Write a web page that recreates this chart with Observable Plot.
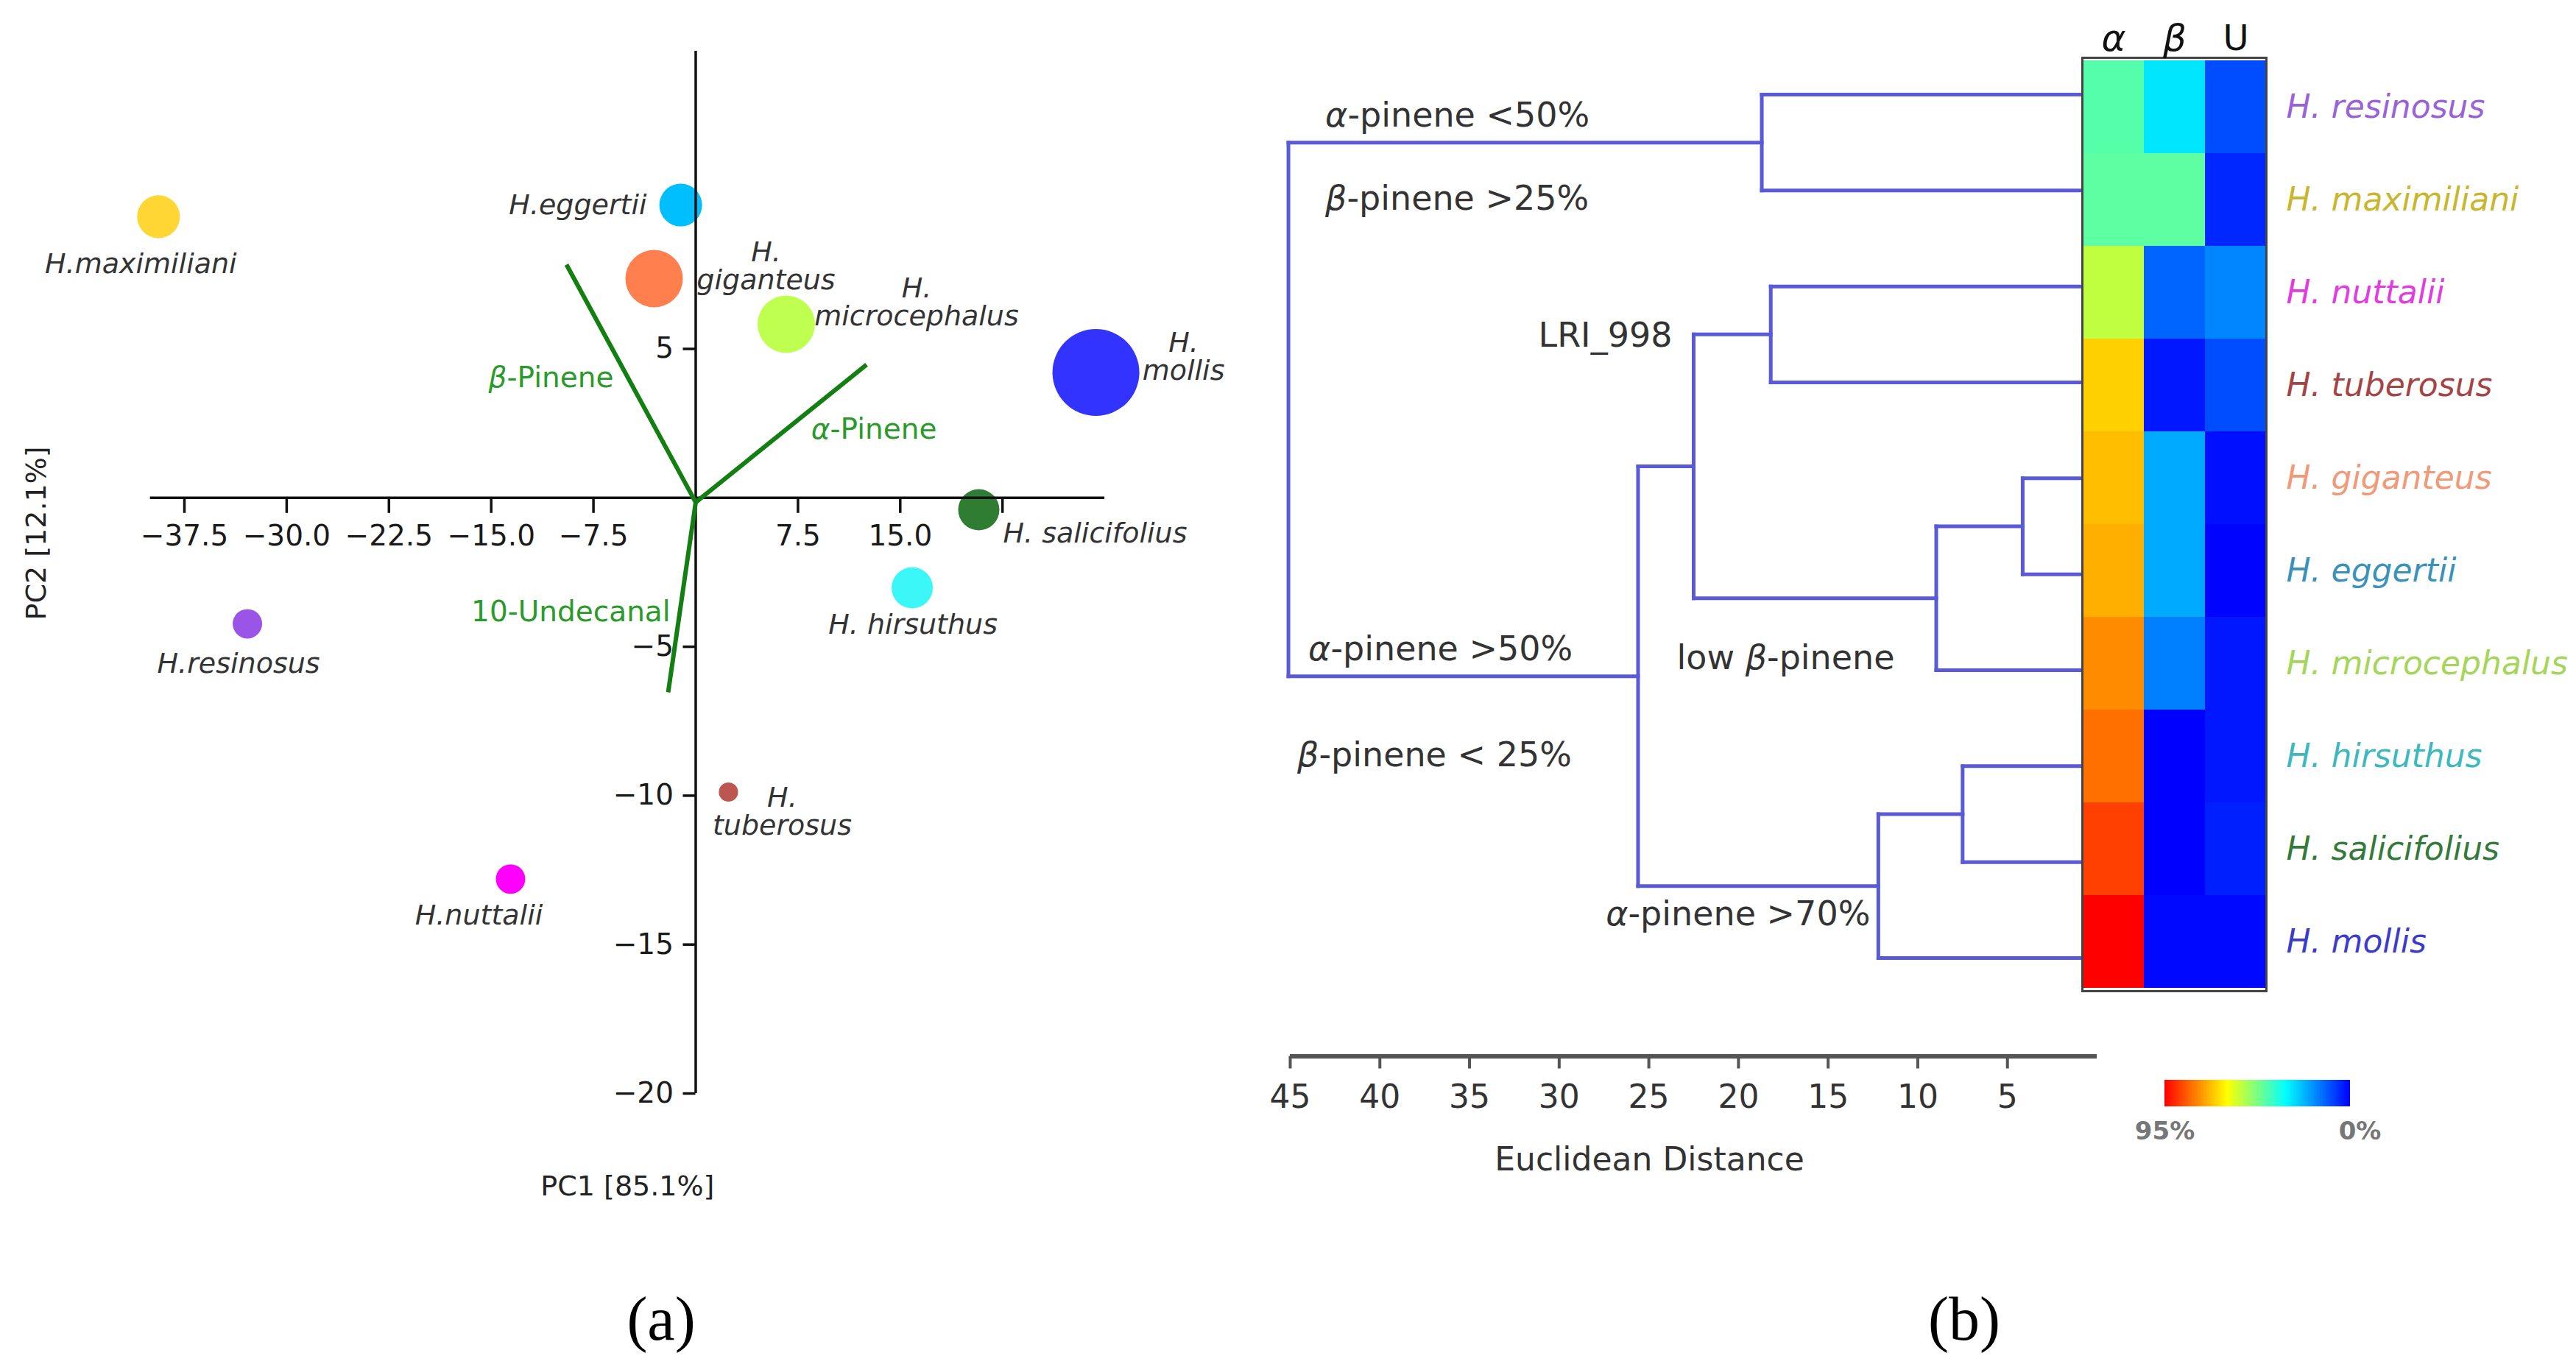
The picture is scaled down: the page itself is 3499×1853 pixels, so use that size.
<!DOCTYPE html>
<html><head><meta charset="utf-8">
<script src="https://cdn.jsdelivr.net/npm/d3@7"></script>
<script src="https://cdn.jsdelivr.net/npm/@observablehq/plot@0.6"></script>
<style>
html,body{margin:0;padding:0;background:#fff;}
#page{position:relative;width:3499px;height:1853px;overflow:hidden;background:#fff;font-family:"DejaVu Sans";}
.panel{position:absolute;}
.panel svg{display:block;overflow:visible;}
.tag{position:absolute;font-family:"Liberation Serif","Times New Roman",serif;font-size:84px;line-height:1;transform:translate(-50%,-50%);color:#000;white-space:nowrap;}
</style></head><body><div id="page"></div>
<script>
// ================= DATA =================
// Panel (a): PCA biplot
const species = ["H. maximiliani","H. eggertii","H. giganteus","H. microcephalus","H. mollis","H. salicifolius","H. hirsuthus","H. resinosus","H. tuberosus","H. nuttalii"];
const pc1 = [-39.4, -1.1, -3.05, 6.64, 29.35, 20.76, 15.88, -32.88, 2.40, -13.58];
const pc2 = [9.44, 9.83, 7.36, 5.83, 4.21, -0.40, -3.02, -4.23, -9.88, -12.80];
const pointSize = [24.2, 24.2, 43.7, 43.7, 100, 22.5, 22.5, 11.5, 4.9, 11.5];
const pcaLabels = ["H.maximiliani","H.eggertii","H.\ngiganteus","H.\nmicrocephalus","H.\nmollis","H. salicifolius","H. hirsuthus","H.resinosus","H.\ntuberosus","H.nuttalii"];

const loadingNames = ["β-Pinene","α-Pinene","10-Undecanal"];
const loadingPC1 = [-9.48, 12.53, -2.02];
const loadingPC2 = [7.83, 4.47, -6.53];
const loadingOrigin = [0, -0.15];

const pc1Ticks = [-37.5, -30, -22.5, -15, -7.5, 7.5, 15, 22.5];
const pc1TickLabels = ["−37.5","−30.0","−22.5","−15.0","−7.5","7.5","15.0",""];
const pc2Ticks = [5, -5, -10, -15, -20];
const pc2TickLabels = ["5","−5","−10","−15","−20"];
const pc1Title = "PC1 [85.1%]";
const pc2Title = "PC2 [12.1%]";

// Panel (b): dendrogram + heatmap
const rowSpecies = ["H. resinosus","H. maximiliani","H. nuttalii","H. tuberosus","H. giganteus","H. eggertii","H. microcephalus","H. hirsuthus","H. salicifolius","H. mollis"];
const compounds = ["α","β","U"];
const alphaPct = [43, 44, 55.5, 68.8, 71, 73, 77.4, 81, 87, 95];
const betaPct  = [29.7, 44, 13, 3, 22, 22, 16.5, 0, 0, 1];
const undecPct = [10, 5, 17.5, 10, 2, 0.5, 3, 3, 4, 1];
// linkage (leaves 0-9, merges numbered 10..18 in order)
const linkLeft  = [0, 2, 4, 12, 11, 7, 15, 14, 10];
const linkRight = [1, 3, 5, 6, 13, 8, 9, 16, 17];
const linkDist  = [18.7, 18.2, 4.15, 8.97, 22.5, 7.5, 12.2, 25.6, 45.1];
const distTicks = [45, 40, 35, 30, 25, 20, 15, 10, 5];
const distTitle = "Euclidean Distance";
const clusterNotes = ["α-pinene <50%","β-pinene >25%","LRI_998","α-pinene >50%","low β-pinene","β-pinene < 25%","α-pinene >70%"];
const colorStops = [0, 33, 63, 95];
const legendTicks = [95, 0];

// ================= STYLE / LAYOUT =================
const FONT = "DejaVu Sans";
const pointColor = {"H. maximiliani":"#FFD633","H. eggertii":"#00BFFF","H. giganteus":"#FF7F4F","H. microcephalus":"#BFFF50","H. mollis":"#3333FF","H. salicifolius":"#2E7D32","H. hirsuthus":"#3CF7F7","H. resinosus":"#9B55E6","H. tuberosus":"#BD5550","H. nuttalii":"#FF00FF"};
const rowLabelColor = {"H. resinosus":"#9A62D8","H. maximiliani":"#C9B62F","H. nuttalii":"#E03CE0","H. tuberosus":"#A34545","H. giganteus":"#F09A78","H. eggertii":"#3A92BB","H. microcephalus":"#A5D65A","H. hirsuthus":"#3DB8BE","H. salicifolius":"#347A3A","H. mollis":"#3C3CC8"};
const pcaLabelLayout = [
  {dx:-24, dy:64, a:"middle"}, {dx:-46, dy:0, a:"end"}, {dx:152, dy:-17, a:"middle"},
  {dx:177, dy:-30, a:"middle"}, {dx:119, dy:-21, a:"middle"}, {dx:33, dy:32, a:"start"},
  {dx:1, dy:50, a:"middle"}, {dx:-12, dy:54, a:"middle"}, {dx:73, dy:27, a:"middle"},
  {dx:-43, dy:50, a:"middle"}
];
const loadingLabelLayout = [{dx:64, dy:154, a:"end"}, {dx:10, dy:88, a:"middle"}, {dx:3, dy:-109, a:"end"}];
// notes: attached to (parent node distance, child node row)
const noteLayout = [
  {parent:18, child:10, dx:50, dy:-36, a:"start"},
  {parent:18, child:10, dx:50, dy:77, a:"start"},
  {parent:14, child:11, dx:-29, dy:2, a:"end"},
  {parent:18, child:17, dx:27, dy:-36, a:"start"},
  {parent:14, child:13, dx:-23, dy:82, a:"start"},
  {parent:18, child:17, dx:12, dy:108, a:"start"},
  {parent:16, child:16, dx:-11, dy:39, a:"end"}
];
const colorScale = {type:"linear", domain: colorStops, range:["#0000FF","#00FFFF","#FFFF00","#FF0000"], interpolate:"rgb"};

const page = document.getElementById("page");
function place(node, left, top){ const d = document.createElement("div"); d.className="panel"; d.style.left=left+"px"; d.style.top=top+"px"; d.appendChild(node); page.appendChild(d); }

// ================= PANEL A =================
{
  const W = 1700, H = 1700;
  const mL = 203.7, mR = 199.9, mT = 68.9, mB = 215;
  const pxX = (W - mL - mR) / 70, pxY = (H - mT - mB) / 35;
  const pts = species.map((s,i)=>({s, x: pc1[i], y: pc2[i], size: pointSize[i], label: pcaLabels[i]}));
  const loads = loadingNames.map((n,i)=>({n, x: loadingPC1[i], y: loadingPC2[i]}));
  const marks = [
    Plot.dot(pts, {x:"x", y:"y", r:"size", fill: d => pointColor[d.s], stroke: "none"}),
    Plot.ruleY([0], {stroke:"#111", strokeWidth:3.5}),
    Plot.ruleX([0], {stroke:"#111", strokeWidth:3.5}),
    Plot.ruleX(pc1Ticks, {x: d=>d, y1: 0, y2: -21/pxY, stroke:"#111", strokeWidth:3.5}),
    Plot.ruleY(pc2Ticks, {y: d=>d, x1: -17/pxX, x2: 0, stroke:"#111", strokeWidth:3.5}),
    Plot.text(pc1Ticks, {x: d=>d, y: 0, dy: 52, text: (d,i)=>pc1TickLabels[i], fontSize:39, fill:"#1a1a1a"}),
    Plot.text(pc2Ticks, {x: 0, y: d=>d, dx: -30, textAnchor:"end", text: (d,i)=>pc2TickLabels[i], fontSize:39, fill:"#1a1a1a"}),
    Plot.link(loads, {x1: ()=>loadingOrigin[0], y1: ()=>loadingOrigin[1], x2:"x", y2:"y", stroke:"#137F13", strokeWidth:6, strokeLinecap:"butt"}),
    Plot.text([pc1Title], {frameAnchor:"bottom", lineAnchor:"middle", textAnchor:"middle", dy:126, fontSize:38, fill:"#222"}),
    Plot.text([pc2Title], {frameAnchor:"left", lineAnchor:"middle", textAnchor:"middle", dx:-154, dy:-53, rotate:-90, fontSize:38, fill:"#222"})
  ];
  pts.forEach((p,i)=>{ const L = pcaLabelLayout[i];
    marks.push(Plot.text([p], {x:"x", y:"y", text:"label", dx:L.dx, dy:L.dy, textAnchor:L.a, lineHeight:1.0, fontSize:38, fontStyle:"italic", fill:"#333"}));
  });
  loads.forEach((p,i)=>{ const L = loadingLabelLayout[i];
    marks.push(Plot.text([p], {x:"x", y:"y", text:"n", dx:L.dx, dy:L.dy, textAnchor:L.a, fontSize:39, fill:"#2A9A2A"}));
  });
  const svg = Plot.plot({
    width: W, height: H, marginLeft: mL, marginRight: mR, marginTop: mT, marginBottom: mB,
    style: {background:"transparent", fontFamily: FONT},
    x: {domain:[-40,30], axis:null}, y: {domain:[-20,15], axis:null},
    r: {type:"sqrt", domain:[0,100], range:[0,59]},
    color: {type:"identity"},
    marks
  });
  place(svg, 0, 0);
}

// ================= PANEL B: dendrogram =================
{
  const W = 1160, H = 1600;
  const yTop = 128, yBot = 1301, axisPx = 1434.5;
  const rowPx = (yBot - yTop) / 9;
  const axisRow = 9 + (axisPx - yBot) / rowPx;
  const nodeX = [], nodeY = [];
  rowSpecies.forEach((s,i)=>{ nodeX[i] = 0; nodeY[i] = i; });
  linkDist.forEach((h,k)=>{ nodeX[10+k] = h; nodeY[10+k] = (nodeY[linkLeft[k]] + nodeY[linkRight[k]]) / 2; });
  const segs = [];
  linkDist.forEach((h,k)=>{
    for (const c of [linkLeft[k], linkRight[k]]) segs.push({x1: nodeX[c], y1: nodeY[c], x2: h, y2: nodeY[c]});
    segs.push({x1: h, y1: nodeY[linkLeft[k]], x2: h, y2: nodeY[linkRight[k]]});
  });
  const marks = [
    Plot.link(segs, {x1:"x1", y1:"y1", x2:"x2", y2:"y2", stroke:"#5A5AD8", strokeWidth:5, strokeLinecap:"square"}),
    Plot.ruleY([axisRow], {x1: distTicks[0], x2: 0, stroke:"#555", strokeWidth:6}),
    Plot.axisX({ticks: distTicks, tickSize:17, tickPadding:22, fontSize:44, label:null, stroke:"#555", fill:"#333", strokeWidth:4}),
    Plot.text([distTitle], {frameAnchor:"bottom", lineAnchor:"middle", textAnchor:"middle", dx:-60, dy:141, fontSize:44, fill:"#333"})
  ];
  clusterNotes.forEach((t,i)=>{ const L = noteLayout[i];
    marks.push(Plot.text([t], {x: ()=>nodeX[L.parent], y: ()=>nodeY[L.child], text: d=>d, dx:L.dx, dy:L.dy, textAnchor:L.a, fontSize:46, fill:"#333"}));
  });
  const svg = Plot.plot({
    width: W, height: H, marginLeft: 52, marginRight: 12, marginTop: 20, marginBottom: H - axisPx,
    style: {background:"transparent", fontFamily: FONT},
    x: {domain:[45,0]}, y: {domain:[0,9], range:[yTop, yBot], axis:null},
    marks
  });
  place(svg, 1700, 0);
}

// ================= PANEL B: heatmap =================
{
  const W = 719, H = 1400;
  const cells = rowSpecies.flatMap((s,i)=>[
    {s, c: compounds[0], v: alphaPct[i]},
    {s, c: compounds[1], v: betaPct[i]},
    {s, c: compounds[2], v: undecPct[i]}
  ]);
  const marks = [
    Plot.cell(cells, {x:"c", y:"s", fill:"v", inset:0, shapeRendering:"crispEdges"}),
    Plot.frame({stroke:"#444", strokeWidth:3}),
    Plot.text(compounds.slice(0,2), {x: d=>d, frameAnchor:"top", lineAnchor:"middle", dy:-26, fontSize:50, fontStyle:"italic", fill:"#111"}),
    Plot.text(compounds.slice(2), {x: d=>d, frameAnchor:"top", lineAnchor:"middle", dy:-26, fontSize:48, fill:"#111"})
  ];
  rowSpecies.forEach(s=>{
    marks.push(Plot.text([s], {y: d=>d, frameAnchor:"right", lineAnchor:"middle", dx:27, textAnchor:"start", fontSize:44, fontStyle:"italic", fill: rowLabelColor[s]}));
  });
  const svg = Plot.plot({
    width: W, height: H, marginLeft: 48, marginRight: 421, marginTop: 78, marginBottom: 54,
    style: {background:"transparent", fontFamily: FONT},
    x: {domain: compounds, padding:0, axis:null}, y: {domain: rowSpecies, padding:0, axis:null},
    color: colorScale,
    marks
  });
  place(svg, 2780, 0);
}

// ================= PANEL B: colour legend =================
{
  const W = 360, H = 140;
  const steps = d3.range(0, 95, 0.5);
  const svg = Plot.plot({
    width: W, height: H, marginLeft: 40, marginRight: 68, marginTop: 27, marginBottom: 77,
    style: {background:"transparent", fontFamily: FONT},
    x: {domain:[95,0], axis:null}, y: {domain:[0,1], axis:null},
    color: colorScale,
    marks: [
      Plot.rect(steps, {x1: d=>d, x2: d=>d+0.5, y1: 0, y2: 1, fill: d=>d+0.25, shapeRendering:"crispEdges"}),
      Plot.text(legendTicks.slice(0,1), {x: d=>d, frameAnchor:"bottom", lineAnchor:"middle", dy:34, text: d=>d+"%", fontSize:34, fontWeight:"bold", fill:"#777"}),
      Plot.text(legendTicks.slice(1), {x: d=>d, frameAnchor:"bottom", lineAnchor:"middle", dx:13, dy:34, text: d=>d+"%", fontSize:34, fontWeight:"bold", fill:"#777"})
    ]
  });
  place(svg, 2900, 1440);
}

// panel tags
[["(a)", 898, 1792], ["(b)", 2668, 1792]].forEach(([t,x,y])=>{
  const d = document.createElement("div"); d.className="tag"; d.textContent=t; d.style.left=x+"px"; d.style.top=y+"px"; page.appendChild(d);
});

// italic Greek letters inside mixed labels
document.querySelectorAll("#page svg text").forEach(t=>{
  if (t.children.length === 0) {
    const s = t.textContent;
    if (s.length > 1 && /[αβ]/.test(s)) t.innerHTML = s.replace(/([αβ])/g, '<tspan font-style="italic">$1</tspan>');
  }
});
</script></body></html>
